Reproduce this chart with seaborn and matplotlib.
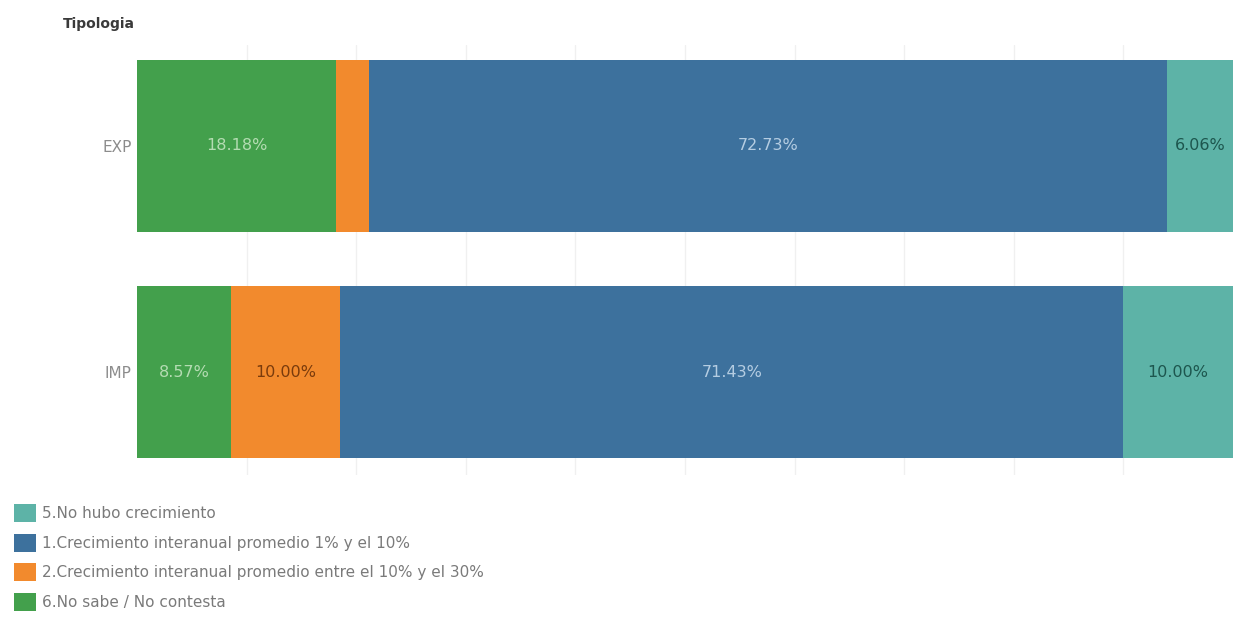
import numpy as np
import pandas as pd
import matplotlib
matplotlib.use("Agg")
import matplotlib.pyplot as plt
from matplotlib.patches import Patch
import seaborn as sns

# data (percent of respondents), left-to-right stacking order
tipologia = ["EXP", "IMP"]
segments = [
    "6.No sabe / No contesta",
    "2.Crecimiento interanual promedio entre el 10% y el 30%",
    "1.Crecimiento interanual promedio 1% y el 10%",
    "5.No hubo crecimiento",
]
no_sabe = [18.18, 8.57]
entre_10_30 = [3.03, 10.00]
entre_1_10 = [72.73, 71.43]
sin_crecimiento = [6.06, 10.00]
show_label = [[True, True], [False, True], [True, True], [True, True]]

colors = ["#43a04c", "#f28a2d", "#3d719d", "#5db3a7"]
label_colors = ["#b4dcb2", "#7a3b0c", "#b5cde2", "#1d564e"]
legend_order = [3, 2, 1, 0]

values = np.array([no_sabe, entre_10_30, entre_1_10, sin_crecimiento])
cum = values.cumsum(axis=0)

sns.set_style("white")
plt.rcParams["font.family"] = ["DejaVu Sans"]

fig = plt.figure(figsize=(12.52, 6.22), dpi=100)
ax = fig.add_axes([0.1094, 0.2363, 0.8754, 0.6914])

# stacked bars: draw cumulative totals from the right-most segment down
for i in range(len(segments) - 1, -1, -1):
    df = pd.DataFrame({"Tipologia": tipologia, "valor": cum[i]})
    sns.barplot(data=df, x="valor", y="Tipologia", orient="h",
                color=colors[i], width=0.76, saturation=1,
                linewidth=0, ax=ax, zorder=3)

for i in range(len(segments)):
    for j in range(len(tipologia)):
        if not show_label[i][j]:
            continue
        left = cum[i][j] - values[i][j]
        ax.text(left + values[i][j] / 2, j, f"{values[i][j]:.2f}%",
                ha="center", va="center", fontsize=11.5,
                color=label_colors[i], zorder=5)

ax.set_xlim(0, 100)
ax.set_ylim(1.453, -0.446)
ax.set_xticks(np.arange(10, 100, 10))
ax.set_xticklabels([])
ax.tick_params(axis="x", length=0)
ax.tick_params(axis="y", length=0, labelsize=11, labelcolor="#8c8c8c", pad=4)
ax.grid(axis="x", color="#f0f0f0", linewidth=1, zorder=0)
ax.set_axisbelow(True)
ax.set_xlabel("")
ax.set_ylabel("")
for s in ax.spines.values():
    s.set_visible(False)

fig.text(0.050, 0.962, "Tipologia", fontsize=10, fontweight="bold",
         color="#3a3a3a", va="center")

handles = [Patch(facecolor=colors[i], edgecolor="none") for i in legend_order]
labels = [segments[i] for i in legend_order]
fig.legend(handles, labels, loc="upper left", bbox_to_anchor=(0.011, 0.19),
           frameon=False, fontsize=11, handlelength=1.45, handleheight=1.45,
           handletextpad=0.4, labelspacing=0.76, borderaxespad=0,
           borderpad=0, labelcolor="#7a7a7a")

fig.savefig("out.png", dpi=100)
